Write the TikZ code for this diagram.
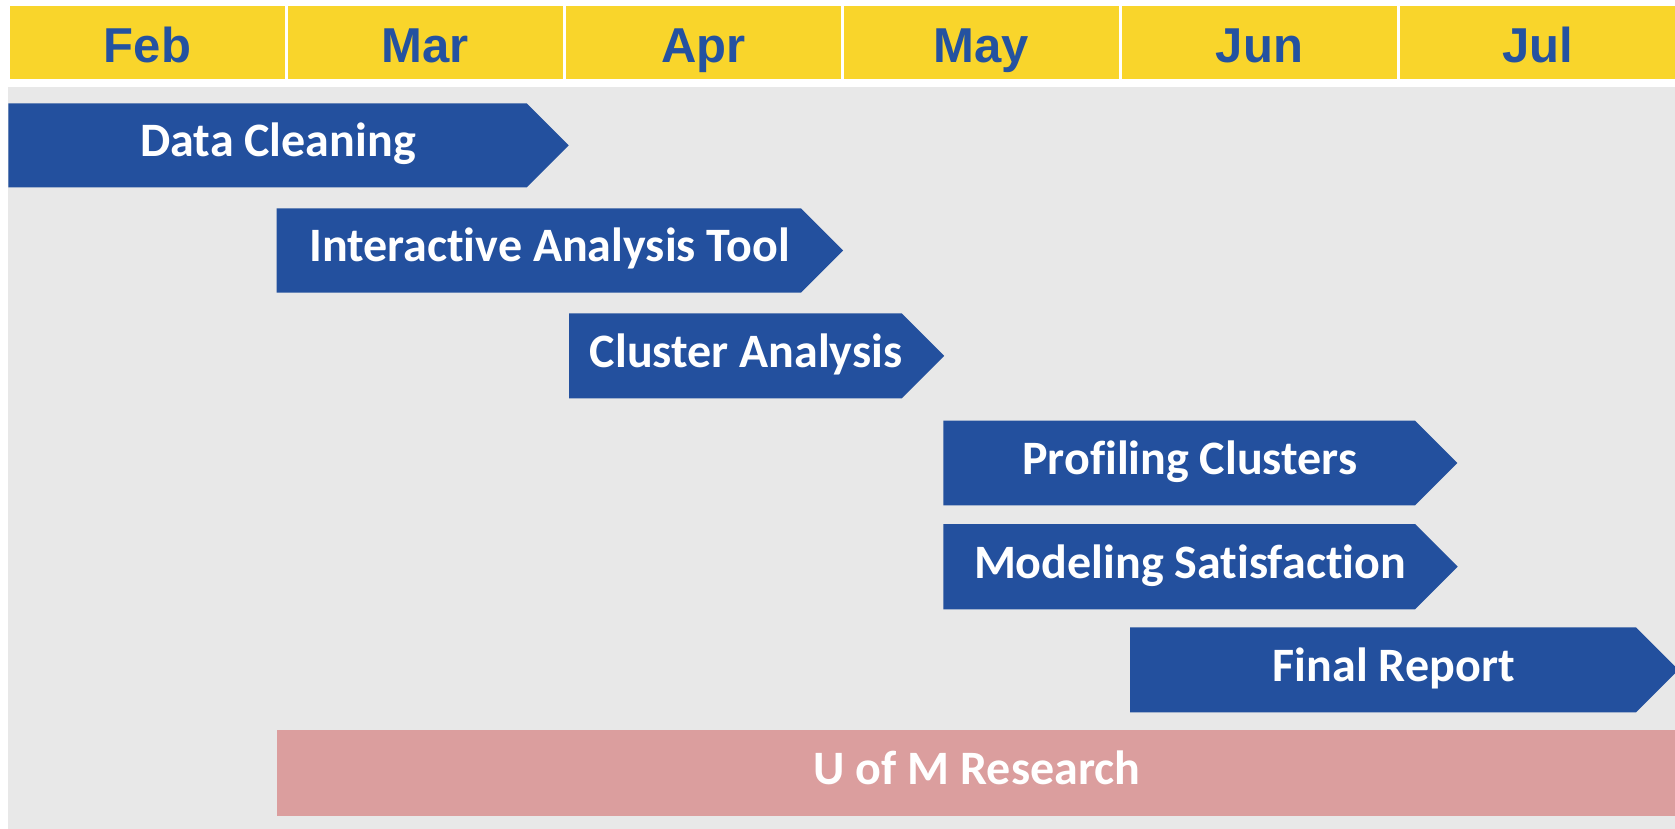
\documentclass[tikz,border=0pt]{standalone}
\usepackage{fontspec}
\setmainfont{Carlito}[Ligatures=NoCommon]
\newfontfamily\monthfont{Liberation Sans}
\definecolor{hdryellow}{HTML}{F9D52B}
\definecolor{monthblue}{HTML}{2452A0}
\definecolor{barblue}{HTML}{23509E}
\definecolor{panelgray}{HTML}{E8E8E8}
\definecolor{uomrose}{HTML}{DB9E9E}
\tikzset{
  monthcell/.style={fill=hdryellow, inner sep=0pt, minimum width=275pt, minimum height=72.7pt,
    text height=40.7pt, text depth=0pt, text=monthblue,
    font=\monthfont\bfseries\fontsize{49}{52}\selectfont},
  tasklabel/.style={anchor=base, inner sep=0pt, text=white,
    font=\bfseries\fontsize{48}{52}\selectfont},
}
% #1 name, #2 left, #3 end of straight part, #4 top, #5 bottom, #6 label
\newcommand{\ganttbar}[6]{%
  \pgfmathsetmacro{\gbmid}{(#4+#5)/2}%
  \pgfmathsetmacro{\gbtip}{#3+(#5-#4)/2}%
  \pgfmathsetmacro{\gbtx}{(#2+\gbtip)/2-10.5}%
  \pgfmathsetmacro{\gbby}{\gbmid+11.4}%
  \fill[barblue] (#2,#4) -- (#3,#4) -- (\gbtip,\gbmid) -- (#3,#5) -- (#2,#5) -- cycle;
  \node[tasklabel] (#1) at (\gbtx,\gbby) {#6};
}
\begin{document}
\begin{tikzpicture}[x=1pt,y=-1pt]
\useasboundingbox (0,0) rectangle (1675,829);
\fill[white] (0,0) rectangle (1675,829);
% month header
\node[monthcell] (feb) at (147.5,42.35) {Feb};
\node[monthcell] (mar) at (425.5,42.35) {Mar};
\node[monthcell] (apr) at (703.5,42.35) {Apr};
\node[monthcell] (may) at (981.5,42.35) {May};
\node[monthcell] (jun) at (1259.5,42.35) {Jun};
\node[monthcell] (jul) at (1537.5,42.35) {Jul};
% chart panel
\begin{scope}
\clip (0,0) rectangle (1675,829);
\fill[panelgray] (8,86.7) rectangle (1680,829);
\ganttbar{clean}{8.3}{526.7}{103.3}{187.3}{Data Cleaning}
\ganttbar{tool}{276.7}{801}{208.3}{292.7}{Interactive Analysis Tool}
\ganttbar{cluster}{569}{901.7}{313.3}{398.3}{Cluster Analysis}
\ganttbar{profile}{943.3}{1415}{420.7}{505.3}{Profiling Clusters}
\ganttbar{model}{943.3}{1415}{524}{609.3}{Modeling Satisfaction}
\ganttbar{report}{1130}{1636}{627.3}{712.3}{Final Report}
\fill[uomrose] (277,730) rectangle (1680,815.7);
\node[tasklabel] (uom) at (977,784.3) {U of M Research};
\end{scope}
\end{tikzpicture}
\end{document}
